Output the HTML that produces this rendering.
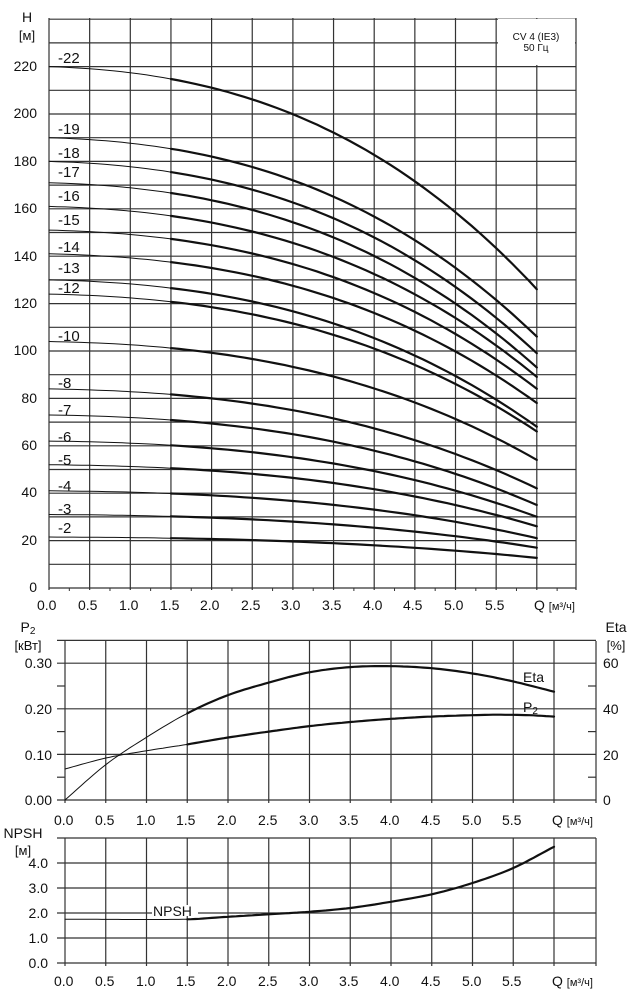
<!DOCTYPE html>
<html><head><meta charset="utf-8"><style>
html,body{margin:0;padding:0;background:#fff;}
svg{display:block;font-family:"Liberation Sans",sans-serif;}
text{fill:#111;}
</style></head><body>
<svg id="s" width="633" height="1000" viewBox="0 0 633 1000" xmlns="http://www.w3.org/2000/svg">
<g id="grid" stroke="#333" stroke-width="1.2" fill="none"></g>
<rect x="498" y="19" width="77" height="46" fill="#fff"/>
<rect x="152" y="905" width="46" height="11" fill="#fff"/>
<g id="curves" stroke="#111" fill="none" stroke-linecap="round"></g>
<g font-size="14">
<text x="27" y="22" text-anchor="middle">H</text>
<text x="27" y="40" text-anchor="middle" font-size="13">[м]</text>
<text x="37" y="71" text-anchor="end">220</text>
<text x="37" y="118" text-anchor="end">200</text>
<text x="37" y="166" text-anchor="end">180</text>
<text x="37" y="213" text-anchor="end">160</text>
<text x="37" y="261" text-anchor="end">140</text>
<text x="37" y="308" text-anchor="end">120</text>
<text x="37" y="355" text-anchor="end">100</text>
<text x="37" y="403" text-anchor="end">80</text>
<text x="37" y="450" text-anchor="end">60</text>
<text x="37" y="497" text-anchor="end">40</text>
<text x="37" y="545" text-anchor="end">20</text>
<text x="37" y="592" text-anchor="end">0</text>
</g>
<g font-size="12" text-anchor="middle">
<text x="536" y="40" font-size="10">CV 4 (IE3)</text>
<text x="536" y="51" font-size="10">50 Гц</text>
</g>
<g font-size="15">
<text x="58" y="63">-22</text><text x="58" y="134">-19</text><text x="58" y="158">-18</text>
<text x="58" y="177">-17</text><text x="58" y="201">-16</text><text x="58" y="225">-15</text>
<text x="58" y="252">-14</text><text x="58" y="273">-13</text><text x="58" y="293">-12</text>
<text x="58" y="341">-10</text><text x="58" y="388">-8</text><text x="58" y="415">-7</text>
<text x="58" y="442">-6</text><text x="58" y="465">-5</text><text x="58" y="491">-4</text>
<text x="58" y="514">-3</text><text x="58" y="533">-2</text>
</g>
<g font-size="14">
<text x="28" y="632" text-anchor="middle">P<tspan font-size="10" dy="2">2</tspan></text>
<text x="28" y="650" text-anchor="middle" font-size="13">[кВт]</text>
<text x="52" y="668" text-anchor="end">0.30</text>
<text x="52" y="714" text-anchor="end">0.20</text>
<text x="52" y="760" text-anchor="end">0.10</text>
<text x="52" y="805" text-anchor="end">0.00</text>
<text x="603" y="668">60</text><text x="603" y="714">40</text>
<text x="603" y="760">20</text><text x="603" y="805">0</text>
<text x="616" y="632" text-anchor="middle">Eta</text>
<text x="616" y="650" text-anchor="middle" font-size="13">[%]</text>
<text x="523" y="682">Eta</text>
<text x="523" y="712">P<tspan font-size="10" dy="2">2</tspan></text>
<text x="23" y="838" text-anchor="middle">NPSH</text>
<text x="23" y="855" text-anchor="middle" font-size="13">[м]</text>
<text x="48" y="868" text-anchor="end">4.0</text>
<text x="48" y="893" text-anchor="end">3.0</text>
<text x="48" y="918" text-anchor="end">2.0</text>
<text x="48" y="943" text-anchor="end">1.0</text>
<text x="48" y="968" text-anchor="end">0.0</text>
<text x="153" y="916">NPSH</text>
</g>
</svg>
<script>
var NS="http://www.w3.org/2000/svg";
function el(p,t,a){var e=document.createElementNS(NS,t);for(var k in a)e.setAttribute(k,a[k]);document.getElementById(p).appendChild(e);return e;}
function line(x1,y1,x2,y2,w){el("grid","line",{x1:x1,y1:y1,x2:x2,y2:y2,"stroke-width":w||1.2});}
var tx=function(q){return 49+q*81.3;}, ty=function(h){return 588-h*2.37;};
for(var h=0;h<=240;h+=10)line(49,ty(h),576,ty(h));
for(var i=0;i<=12;i++)line(tx(i/2),18,tx(i/2),590);
line(576,18,576,590);
for(var i=0;i<13;i++)line(tx(i/2+0.25),588,tx(i/2+0.25),591,1);
var mx=function(q){return 65+q*81.5;}, my=function(p){return 800-p*456;};
for(var i=0;i<=3;i++)line(57,my(i/10),596,my(i/10));
line(57,my(0.35),596,my(0.35));
for(var i=0;i<3;i++){var p=0.05+i/10;line(57,my(p),65,my(p));line(588,my(p),596,my(p));}
for(var i=0;i<=12;i++)line(mx(i/2),641,mx(i/2),803);
line(596,641,596,803);
var ny=function(n){return 963-n*25;};
for(var n=0;n<=5;n++)line(57,ny(n),596,ny(n));
for(var i=0;i<=12;i++)line(mx(i/2),838,mx(i/2),966);
line(596,838,596,966);
function path(pts,w){var d="";pts.forEach(function(p,i){d+=(i?"L":"M")+p[0].toFixed(1)+" "+p[1].toFixed(1);});el("curves","path",{d:d,"stroke-width":w});}
function g(q){return (0.005*q+0.006*q*q+0.00085*q*q*q)/0.43;}
var st=[[220,126],[190,106],[180,99],[171,93],[161,89],[151,84],[141,78],[130,68],[124,66],[104,54],[84,42],[73,35],[62,30],[52,26],[41,21],[31,17],[21.5,12.7]];
st.forEach(function(s){var a=[],b=[];for(var i=0;i<=60;i++){var q=i/10;var p=[tx(q),ty(s[0]-(s[0]-s[1])*g(q))];if(i<=15)a.push(p);if(i>=15)b.push(p);}path(a,1);path(b,2.2);});
function interp(tab,q){var n=tab.length;for(var i=0;i<n-1;i++){if(q<=tab[i+1][0]+1e-9){
 var x0=tab[i][0],x1=tab[i+1][0],t=(q-x0)/(x1-x0),h=x1-x0;
 var y0=tab[i][1],y1=tab[i+1][1];
 var m0=i>0?(tab[i+1][1]-tab[i-1][1])/(tab[i+1][0]-tab[i-1][0]):(y1-y0)/h;
 var m1=i<n-2?(tab[i+2][1]-tab[i][1])/(tab[i+2][0]-tab[i][0]):(y1-y0)/h;
 var t2=t*t,t3=t2*t;
 return (2*t3-3*t2+1)*y0+(t3-2*t2+t)*h*m0+(-2*t3+3*t2)*y1+(t3-t2)*h*m1;}}return tab[n-1][1];}
function curve(tab,fx,fy){var a=[],b=[];for(var i=0;i<=120;i++){var q=i/20;var p=[fx(q),fy(interp(tab,q))];if(i<=30)a.push(p);if(i>=30)b.push(p);}path(a,1);path(b,2.2);}
var eta=[[0,0],[0.5,15.5],[1,27.5],[1.5,38],[2,46],[2.5,51.5],[3,56],[3.5,58.3],[4,58.7],[4.5,57.8],[5,55.5],[5.5,52],[6,47.5]];
curve(eta,mx,function(e){return my(e/200);});
var p2=[[0,0.068],[0.5,0.092],[1,0.108],[1.5,0.122],[2,0.137],[2.5,0.15],[3,0.162],[3.5,0.171],[4,0.178],[4.5,0.183],[5,0.186],[5.3,0.187],[5.7,0.186],[6,0.183]];
curve(p2,mx,my);
var np=[[0,1.75],[1.5,1.75],[2,1.85],[2.5,1.95],[3,2.05],[3.5,2.2],[4,2.45],[4.5,2.75],[5,3.2],[5.5,3.8],[6,4.65]];
curve(np,mx,ny);
</script>
<div style="position:absolute;left:0;top:0;width:633px;height:1000px;pointer-events:none;font-family:'Liberation Sans',sans-serif;font-size:14px;color:#111;">
<div style="position:absolute;top:597px;left:0;width:633px;height:18px;">
<span style="position:absolute;left:37px">0.0</span><span style="position:absolute;left:78px">0.5</span><span style="position:absolute;left:119px">1.0</span><span style="position:absolute;left:160px">1.5</span><span style="position:absolute;left:200px">2.0</span><span style="position:absolute;left:241px">2.5</span><span style="position:absolute;left:281px">3.0</span><span style="position:absolute;left:322px">3.5</span><span style="position:absolute;left:363px">4.0</span><span style="position:absolute;left:403px">4.5</span><span style="position:absolute;left:444px">5.0</span><span style="position:absolute;left:485px">5.5</span><span style="position:absolute;left:534px">Q <span style="font-size:11px">[м³/ч]</span></span>
</div>
<div style="position:absolute;top:812px;left:0;width:633px;height:18px;">
<span style="position:absolute;left:54px">0.0</span><span style="position:absolute;left:95px">0.5</span><span style="position:absolute;left:136px">1.0</span><span style="position:absolute;left:176px">1.5</span><span style="position:absolute;left:217px">2.0</span><span style="position:absolute;left:258px">2.5</span><span style="position:absolute;left:299px">3.0</span><span style="position:absolute;left:339px">3.5</span><span style="position:absolute;left:380px">4.0</span><span style="position:absolute;left:421px">4.5</span><span style="position:absolute;left:462px">5.0</span><span style="position:absolute;left:502px">5.5</span><span style="position:absolute;left:552px">Q <span style="font-size:11px">[м³/ч]</span></span>
</div>
<div style="position:absolute;top:973px;left:0;width:633px;height:18px;">
<span style="position:absolute;left:54px">0.0</span><span style="position:absolute;left:95px">0.5</span><span style="position:absolute;left:136px">1.0</span><span style="position:absolute;left:176px">1.5</span><span style="position:absolute;left:217px">2.0</span><span style="position:absolute;left:258px">2.5</span><span style="position:absolute;left:299px">3.0</span><span style="position:absolute;left:339px">3.5</span><span style="position:absolute;left:380px">4.0</span><span style="position:absolute;left:421px">4.5</span><span style="position:absolute;left:462px">5.0</span><span style="position:absolute;left:502px">5.5</span><span style="position:absolute;left:552px">Q <span style="font-size:11px">[м³/ч]</span></span>
</div>
</div>
</body></html>
